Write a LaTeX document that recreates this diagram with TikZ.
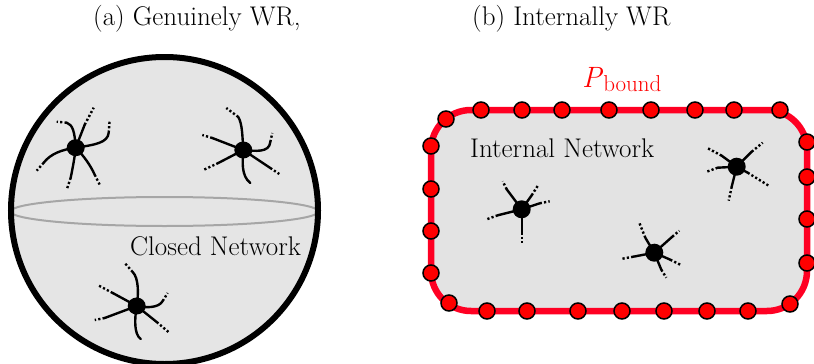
\documentclass[tikz,border=0pt]{standalone}
\usepackage{fontspec}
\usetikzlibrary{shapes.geometric}
\definecolor{boundred}{RGB}{255,0,35}
\begin{document}
\begin{tikzpicture}[x=1pt,y=-1pt,
  lbl/.style={inner sep=0pt,anchor=base west,font=\fontsize{27}{32}\selectfont},
  body/.style={ellipse,fill=black,inner sep=0pt,minimum width=18pt,minimum height=17pt},
  rbody/.style={circle,fill=black,inner sep=0pt,minimum size=18pt},
  legline/.style={line width=2.4pt,line cap=round},
  legdots/.style={line width=2.4pt,dash pattern=on 2.2pt off 2.2pt},
  bdot/.style={circle,fill=red,draw=black,line width=1.5pt,inner sep=0pt,minimum size=16pt}]
\useasboundingbox (0,0) rectangle (814,364);

% (a) closed sphere
\fill[black!10] (164.5,210.5) circle (153.5);
\draw[black!35,line width=2pt] (164.5,211.5) ellipse (154 and 14.5);
\draw[line width=6pt] (164.5,210.5) circle (153.5);

% legs: curled solid part with dotted tail, or straight solid part with dotted tail
\newcommand{\cleg}[5]{\draw[legline] (0,0) .. controls #1 and #2 .. #3; \draw[legdots] #3 -- #4;#5}
\newcommand{\sleg}[2]{\draw[legline] (0,0) -- #1; \draw[legdots] #1 -- #2;}

\begin{scope}[shift={(75.7,147.7)}]
  \cleg{(-1,-16)}{(-3,-23)}{(-9,-25)}{(-19,-26)}{}
  \sleg{(9,-23)}{(18,-40)}
  \cleg{(20,-3)}{(32,-5)}{(33,-15)}{(34,-28)}{}
  \cleg{(-14,2)}{(-25,6)}{(-32,15)}{(-39,23)}{}
  \cleg{(-1,10)}{(-3,20)}{(-5,30)}{(-9,42)}{}
  \cleg{(8,8)}{(15,18)}{(19,27)}{(24,37)}{}
  \node[body] (s1) at (0,0) {};
\end{scope}

\begin{scope}[shift={(243.3,150)}]
  \cleg{(-1,-15)}{(-1,-26)}{(-5,-33)}{(-17,-42)}{}
  \sleg{(-31,-12)}{(-41,-15)}
  \cleg{(12,1)}{(26,3)}{(27,-8)}{(29,-17)}{}
  \sleg{(-25,13)}{(-40,20)}
  \draw[legline] (0,0) .. controls (-1,12) and (-2,26) .. (7,33);
  \sleg{(27,18)}{(36,24)}
  \node[body] (s2) at (0,0) {};
\end{scope}

\begin{scope}[shift={(136.7,306)}]
  \cleg{(2,-12)}{(2,-28)}{(-4,-34)}{(-12,-43)}{}
  \sleg{(-24,-13)}{(-39,-21)}
  \cleg{(10,2)}{(22,2)}{(26,-5)}{(31,-13)}{}
  \sleg{(-32,12)}{(-42,14)}
  \draw[legline] (0,0) .. controls (-2,12) and (-3,28) .. (4,33);
  \sleg{(20,16)}{(33,27)}
  \node[body] (s3) at (0,0) {};
\end{scope}

\node[lbl] (closed) at (130,255) {Closed Network};

% (b) network with boundary
\filldraw[fill=black!11,draw=boundred,line width=6.5pt,rounded corners=40pt]
  (431,110) rectangle (807,311);

\begin{scope}[shift={(521.7,209.3)}]
  \sleg{(-15,-20)}{(-19,-28)}
  \sleg{(10,-14)}{(17,-25)}
  \sleg{(18,-6)}{(28,-8)}
  \sleg{(-24,6)}{(-35,10)}
  \sleg{(0,23)}{(0,35)}
  \node[rbody] (s4) at (0,0) {};
\end{scope}

\begin{scope}[shift={(654.3,252.7)}]
  \sleg{(-9,-15)}{(-15,-30)}
  \sleg{(18,-16)}{(25,-22)}
  \sleg{(-21,4)}{(-32,6)}
  \sleg{(16,7)}{(26,12)}
  \sleg{(7,17)}{(12,25)}
  \node[rbody] (s5) at (0,0) {};
\end{scope}

\begin{scope}[shift={(736.7,166.7)}]
  \sleg{(-15,-11)}{(-30,-19)}
  \sleg{(15,-15)}{(26,-24)}
  \sleg{(-19,1)}{(-30,5)}
  \sleg{(11,6)}{(32,19)}
  \sleg{(-5,20)}{(-8,34)}
  \node[rbody] (s6) at (0,0) {};
\end{scope}

% boundary degrees of freedom
\foreach \p [count=\i] in {(446,119),(481,110),(522,110),(562,110),(609,110),(651,110),
    (695,110),(734,110),(780,110),
    (807,142),(807,177),(807,219),(807,263),(790,304),
    (748,311),(707,311),(664,311),(622,311),(578,311),(527,311),(487,311),(449,303),
    (431,273),(431,231),(431,189),(431,146)}
  \node[bdot] (b\i) at \p {};

\node[lbl] (internal) at (470,157) {Internal Network};
\node[lbl,font=\fontsize{29.4}{35}\selectfont,text=red] (pb) at (582,87)
  {\itshape P\/\upshape\raisebox{-4pt}{\fontsize{23}{27}\selectfont bound}};

% panel titles
\node[lbl] (ta) at (93,25) {(a) Genuinely WR,};
\node[lbl] (tb) at (472,25) {(b) Internally WR};
\end{tikzpicture}
\end{document}
